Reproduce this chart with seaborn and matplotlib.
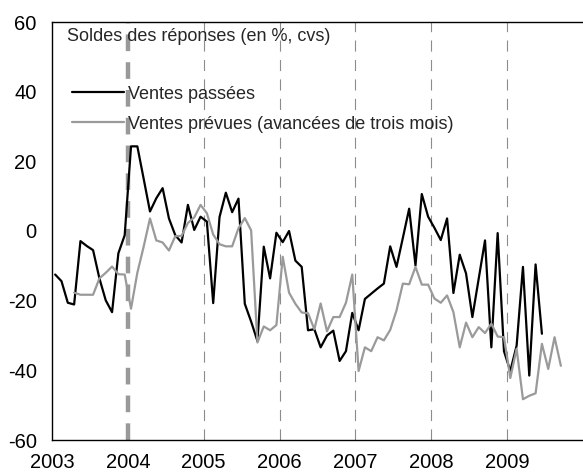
# plot.py : ventes passees et prevues, soldes des reponses 2003-2009
#---|----1----|----2----|----3----|----4----|----5----|----6----|----7----|----8

################################################################################
### [0] Imports
################################################################################
import numpy as np
import pandas as pd
import matplotlib
matplotlib.use("Agg")
import matplotlib.pyplot as plt
import seaborn as sns

sns.set_style("white")
plt.rcParams['font.family'] = ['Liberation Sans', 'DejaVu Sans']
plt.rcParams['lines.scale_dashes'] = False
plt.rcParams['axes.unicode_minus'] = False

################################################################################
### [1] Data (monthly, soldes en %)
################################################################################
# Ventes passees : Jan 2003 -> Jun 2009
passees = [-12.5, -14.4, -20.6, -21.1, -2.9, -4.3, -5.5, -13.6, -19.9, -23.3, -6.4, -1.2,
           24.3, 24.3, 15.0, 5.6, 9.4, 12.3, 3.6, -1.2, -3.3, 7.5, 0.3, 4.1,
           2.7, -20.7, 4.0, 11.0, 5.4, 9.3, -20.9, -26.0, -31.6, -4.5, -13.6, -0.5,
           -3.2, 0.0, -8.5, -10.3, -28.5, -28.2, -33.4, -30.0, -28.6, -37.3, -34.5, -23.5,
           -28.5, -19.5, -18.0, -16.5, -15.1, -4.4, -10.3, -2.0, 6.4, -9.9, 10.6, 4.1,
           0.9, -2.6, 3.6, -17.8, -6.8, -12.2, -24.7, -13.7, -2.7, -33.4, -0.6, -34.5,
           -40.2, -32.9, -10.3, -41.5, -9.6, -29.5]
passees_debut = (2003, 1)

# Ventes prevues (avancees de trois mois) : Apr 2003 -> Sep 2009
prevues = [-17.7, -18.3, -18.3, -18.3, -13.6, -12.0, -10.2, -12.4, -12.5,
           -22.3, -12.0, -4.5, 3.6, -2.7, -3.3, -5.6, -1.5, -1.4, 2.3, 3.9, 7.5,
           5.1, -1.0, -3.8, -4.4, -4.4, 0.8, 3.7, 0.2, -32.0, -27.4, -28.5, -27.0,
           -7.4, -17.7, -20.9, -23.4, -23.6, -28.2, -20.8, -28.8, -24.7, -24.7, -20.6, -12.5,
           -40.2, -33.4, -34.5, -30.5, -31.4, -28.4, -22.8, -15.1, -15.3, -10.3, -15.4, -15.4,
           -19.4, -20.6, -18.5, -23.3, -33.4, -26.3, -30.5, -27.6, -29.3, -26.6, -30.3, -30.5,
           -42.2, -33.8, -48.3, -47.3, -46.6, -32.4, -39.6, -30.5, -38.7]
prevues_debut = (2003, 4)

lab_passees = "Ventes passées"
lab_prevues = "Ventes prévues (avancées de trois mois)"
titre = "Soldes des réponses (en %, cvs)"

annees = [2003, 2004, 2005, 2006, 2007, 2008, 2009]
yticks = [-60, -40, -20, 0, 20, 40, 60]
annee_marquee = 2004


def dates(debut, n):
    # month m of year y placed at the middle of the month
    y, m = debut
    k = np.arange(n) + (m - 1)
    return y + (k + 0.5) / 12.0


df = pd.concat([
    pd.DataFrame({'t': dates(passees_debut, len(passees)), 'v': passees, 'serie': lab_passees}),
    pd.DataFrame({'t': dates(prevues_debut, len(prevues)), 'v': prevues, 'serie': lab_prevues}),
])

################################################################################
### [2] Plot
################################################################################
fig = plt.figure(figsize=(5.83, 4.75), dpi=100)
ax = fig.add_axes([52/583, 1 - 440/475, 1 - 52/583, 418/475])

# year separators
for a in annees[2:]:
    ax.axvline(a, color='#8c8c8c', lw=0.8, dashes=(8, 6), zorder=1)
ax.axvline(annee_marquee, color='#999999', lw=3.2, dashes=(12, 8), zorder=1)

sns.lineplot(data=df, x='t', y='v', hue='serie', ax=ax,
             palette={lab_passees: 'black', lab_prevues: '#9a9a9a'},
             linewidth=1.6, estimator=None, sort=True, zorder=3)

ax.set_xlim(2003, 2010)
ax.set_ylim(-60, 60)
ax.set_xticks(annees)
ax.set_yticks(yticks)
ax.set_xlabel('')
ax.set_ylabel('')
ax.tick_params(axis='both', direction='inout', length=8, width=1, colors='black',
               labelsize=14.5)
ax.tick_params(axis='y', pad=7)
ax.tick_params(axis='x', pad=5.5)

for s in ['left', 'bottom', 'top']:
    ax.spines[s].set_visible(True)
    ax.spines[s].set_color('black')
    ax.spines[s].set_linewidth(1.0)
ax.spines['right'].set_visible(False)

ax.text(0.028, 0.966, titre, transform=ax.transAxes, fontsize=13,
        ha='left', va='center')

leg = ax.legend(loc='upper left', bbox_to_anchor=(0.037, 0.848), frameon=False,
                fontsize=13, handlelength=2.9, handletextpad=0.2,
                labelspacing=0.72, borderpad=0, borderaxespad=0)

plt.savefig('out.png', dpi=100)
plt.close('all')
